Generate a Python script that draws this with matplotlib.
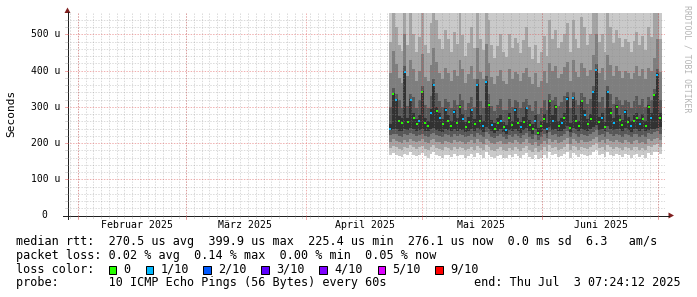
import numpy as np
import pandas as pd
import matplotlib
matplotlib.use('Agg')
import matplotlib.pyplot as plt
import matplotlib.dates as mdates
from matplotlib.patches import Polygon, Rectangle
from matplotlib.lines import Line2D

plt.rcParams['font.family'] = ['DejaVu Sans Mono']

W, H = 697, 297

# --- data (smokeping: 10 pings every 60s, one column = 18h consolidation) ---
col_start = '2025-04-22 10:00'
ncol = 94
t_first = '2025-01-29 03:43'
t_last = '2025-07-02 19:07'

# median rtt in us
median = [240, 335, 318, 262, 255, 397, 258, 319, 268, 252,
          262, 341, 256, 247, 282, 360, 288, 268, 252, 291,
          262, 248, 285, 256, 300, 265, 244, 258, 290, 252,
          360, 262, 247, 369, 306, 250, 240, 256, 262, 245,
          236, 268, 249, 292, 255, 244, 258, 296, 250, 238,
          262, 228, 246, 266, 240, 315, 262, 300, 248, 255,
          270, 322, 242, 324, 261, 248, 315, 276, 252, 266,
          341, 401, 258, 270, 245, 341, 282, 255, 300, 264,
          250, 287, 258, 246, 262, 270, 252, 265, 248, 300,
          268, 333, 388, 270]
# lost pings out of 10
loss = [1, 0, 1, 0, 0, 1, 0, 1, 0, 0,
        1, 0, 0, 0, 1, 1, 0, 1, 0, 1,
        0, 0, 1, 0, 0, 1, 0, 0, 1, 0,
        1, 0, 1, 1, 0, 1, 0, 0, 1, 0,
        1, 0, 0, 1, 0, 1, 0, 1, 0, 0,
        1, 0, 0, 0, 1, 0, 1, 0, 0, 1,
        0, 1, 0, 1, 0, 0, 0, 1, 0, 0,
        1, 1, 0, 1, 0, 1, 0, 1, 0, 0,
        0, 1, 0, 1, 0, 0, 1, 0, 0, 0,
        1, 0, 1, 0]

# sorted ping rtts (us): p1/p10, p2/p9, p3/p8, p4/p7, p5/p6
p1 = [166, 172, 168, 164, 162, 170, 166, 174, 168, 164,
      168, 172, 164, 160, 170, 174, 166, 164, 160, 168,
      166, 162, 170, 164, 168, 166, 160, 164, 170, 162,
      172, 166, 160, 174, 168, 162, 158, 164, 168, 160,
      158, 166, 162, 170, 164, 158, 166, 172, 162, 156,
      166, 156, 160, 168, 158, 174, 166, 170, 162, 164,
      170, 176, 160, 172, 168, 162, 170, 166, 164, 168,
      174, 180, 166, 170, 162, 174, 168, 164, 170, 166,
      162, 170, 166, 160, 168, 170, 162, 166, 160, 172,
      168, 174, 176, 170]
p10 = [720, 880, 760, 690, 650, 940, 700, 820, 740, 660,
       700, 860, 680, 640, 760, 900, 780, 700, 660, 740,
       720, 650, 760, 690, 800, 730, 640, 700, 770, 660,
       880, 710, 660, 900, 790, 680, 620, 690, 740, 650,
       630, 730, 670, 720, 700, 650, 710, 760, 680, 620,
       700, 600, 660, 740, 640, 800, 720, 760, 680, 700,
       740, 780, 650, 800, 720, 680, 790, 750, 690, 730,
       860, 960, 700, 740, 660, 880, 770, 700, 750, 720,
       680, 720, 700, 660, 710, 750, 690, 730, 670, 760,
       720, 820, 940, 710]
p2 = [186, 192, 188, 184, 182, 190, 186, 194, 188, 184,
      188, 192, 184, 182, 190, 194, 186, 184, 180, 188,
      186, 182, 190, 184, 188, 186, 180, 184, 190, 182,
      192, 186, 180, 194, 188, 182, 178, 184, 188, 180,
      178, 186, 182, 190, 184, 178, 186, 192, 182, 176,
      186, 176, 180, 188, 178, 194, 186, 190, 182, 184,
      190, 196, 180, 192, 188, 182, 190, 186, 184, 188,
      194, 200, 186, 190, 182, 194, 188, 184, 190, 186,
      182, 190, 186, 180, 188, 190, 182, 186, 180, 192,
      188, 194, 196, 190]
p9 = [480, 600, 520, 470, 455, 640, 470, 560, 500, 452,
      492, 580, 470, 448, 530, 610, 540, 486, 460, 512,
      488, 450, 506, 472, 560, 498, 440, 476, 520, 462,
      600, 486, 458, 620, 540, 470, 436, 468, 500, 450,
      438, 500, 462, 490, 476, 448, 484, 520, 466, 432,
      470, 420, 452, 496, 440, 540, 488, 512, 462, 478,
      500, 530, 450, 540, 486, 462, 548, 520, 470, 500,
      580, 660, 480, 500, 452, 600, 520, 476, 512, 490,
      466, 488, 478, 452, 482, 506, 470, 494, 456, 520,
      492, 560, 640, 488]
p3 = [204, 210, 206, 202, 200, 208, 204, 212, 206, 202,
      206, 210, 202, 200, 208, 212, 204, 202, 198, 206,
      204, 200, 208, 202, 206, 204, 198, 202, 208, 200,
      210, 204, 198, 212, 206, 200, 196, 202, 206, 198,
      196, 204, 200, 208, 202, 196, 204, 210, 200, 194,
      204, 192, 198, 206, 196, 212, 204, 208, 200, 202,
      208, 214, 198, 210, 206, 200, 208, 204, 202, 206,
      212, 218, 204, 208, 200, 212, 206, 202, 208, 204,
      200, 208, 204, 198, 206, 208, 200, 204, 198, 210,
      206, 212, 214, 208]
p8 = [392, 455, 418, 380, 366, 500, 384, 430, 404, 372,
      398, 446, 382, 370, 414, 462, 424, 394, 376, 408,
      394, 372, 402, 384, 428, 404, 366, 390, 412, 378,
      462, 396, 376, 474, 422, 382, 362, 384, 402, 370,
      364, 404, 378, 396, 390, 372, 394, 408, 382, 362,
      392, 354, 372, 400, 366, 420, 398, 412, 380, 390,
      410, 424, 372, 428, 396, 382, 422, 406, 384, 402,
      442, 502, 392, 408, 374, 442, 416, 384, 412, 398,
      380, 398, 392, 376, 394, 412, 384, 404, 378, 408,
      400, 434, 488, 396]
p4 = [222, 226, 224, 220, 218, 226, 222, 228, 224, 220,
      222, 226, 220, 218, 224, 228, 222, 220, 216, 224,
      222, 218, 226, 220, 224, 222, 216, 220, 226, 218,
      228, 222, 216, 230, 224, 218, 214, 220, 224, 216,
      212, 222, 218, 226, 220, 214, 222, 228, 218, 212,
      222, 208, 216, 224, 214, 230, 222, 226, 218, 220,
      226, 232, 216, 228, 224, 218, 226, 222, 220, 224,
      230, 236, 222, 226, 218, 230, 224, 220, 226, 222,
      218, 226, 222, 216, 224, 226, 218, 222, 216, 228,
      224, 230, 232, 226]
p7 = [300, 352, 336, 318, 296, 412, 302, 334, 326, 298,
      318, 358, 304, 296, 330, 376, 338, 316, 300, 322,
      314, 296, 318, 306, 336, 320, 292, 310, 326, 300,
      378, 316, 298, 384, 336, 302, 288, 306, 322, 292,
      290, 322, 300, 318, 312, 296, 314, 322, 304, 288,
      316, 280, 296, 320, 290, 334, 318, 328, 302, 312,
      330, 340, 296, 342, 318, 304, 338, 326, 308, 322,
      358, 418, 314, 326, 296, 356, 334, 308, 328, 318,
      304, 318, 312, 298, 316, 330, 306, 322, 300, 326,
      320, 350, 404, 318]
p5 = [236, 240, 238, 234, 232, 240, 236, 242, 238, 234,
      236, 240, 234, 232, 238, 242, 236, 234, 230, 238,
      236, 232, 240, 234, 238, 236, 230, 234, 240, 232,
      242, 236, 230, 244, 238, 232, 228, 234, 238, 230,
      226, 236, 232, 240, 234, 228, 236, 242, 232, 226,
      238, 222, 230, 240, 228, 244, 236, 240, 232, 234,
      240, 246, 230, 242, 238, 232, 240, 236, 234, 238,
      244, 250, 236, 240, 232, 246, 238, 236, 240, 238,
      232, 242, 236, 230, 238, 240, 234, 238, 232, 236,
      240, 238, 242, 244]
p6 = [252, 338, 322, 275, 268, 400, 270, 322, 282, 266,
      276, 344, 270, 262, 295, 363, 300, 282, 266, 296,
      276, 262, 290, 270, 304, 280, 258, 272, 294, 266,
      363, 276, 262, 372, 310, 264, 254, 270, 276, 258,
      250, 282, 262, 296, 270, 258, 272, 300, 264, 252,
      276, 242, 260, 280, 254, 318, 276, 304, 262, 268,
      284, 326, 256, 328, 276, 262, 318, 290, 266, 280,
      344, 404, 272, 284, 258, 344, 296, 268, 304, 278,
      264, 292, 272, 260, 276, 284, 266, 280, 262, 304,
      282, 336, 392, 284]

for arr in (median, loss, p1, p10, p2, p9, p3, p8, p4, p7, p5, p6):
    assert len(arr) == ncol

loss_labels = ['0', '1/10', '2/10', '3/10', '4/10', '5/10', '9/10']
loss_colors = ['#26ff00', '#00b8ff', '#0059ff', '#5e00ff', '#7e00ff', '#dd00ff', '#ff0000']

month_starts = ['2025-02-01', '2025-03-01', '2025-04-01', '2025-05-01', '2025-06-01', '2025-07-01']
month_label_at = ['2025-02-16 06:00', '2025-03-16 06:00', '2025-04-16 06:00',
                  '2025-05-16 06:00', '2025-06-16 06:00']
month_labels = ['Februar 2025', 'März 2025', 'April 2025', 'Mai 2025', 'Juni 2025']

ytick_vals = [0, 100, 200, 300, 400, 500]
ytick_labels = ['0', '100 u', '200 u', '300 u', '400 u', '500 u']

# --- figure ---
fig = plt.figure(figsize=(W / 100, H / 100), dpi=100)
fig.patch.set_facecolor('white')

def fx(x):
    return x / W

def fy(y):
    return 1 - y / H

X0, XW = 67, 598
ax = fig.add_axes([fx(X0), (H - 215.5) / H, XW / W, 202.2 / H])
tstart = mdates.date2num(pd.Timestamp(t_first))
tend = mdates.date2num(pd.Timestamp(t_last))
span = tend - tstart
ax.set_xlim(tstart, tend)
ax.set_ylim(0, 558)
ax.set_axis_off()

t = mdates.date2num(pd.date_range(col_start, periods=ncol, freq='18h'))
wd = 0.75
med = np.array(median, dtype=float)

smoke = [(p1, p10, '#cacaca'), (p2, p9, '#a4a4a4'), (p3, p8, '#7e7e7e'),
         (p4, p7, '#585858'), (p5, p6, '#323232')]
for lo, hi, c in smoke:
    lo = np.array(lo, dtype=float)
    hi = np.array(hi, dtype=float)
    ax.bar(t, hi - lo, bottom=lo, width=wd, align='edge', color=c,
           linewidth=0, antialiased=False, zorder=2)

ls = np.array(loss)
for k in range(2):
    m = ls == k
    ax.plot(t[m] + wd / 2, med[m], 's', ms=1.9, mew=0, color=loss_colors[k], zorder=4)

# grid (rrdtool draws it over the graph)
gcol = (0.56, 0.56, 0.56, 0.33)
mcol = (0.87, 0.31, 0.31, 0.45)
dash = (0, (1.4, 1.4))
even_days = np.arange(np.ceil(tstart / 2) * 2, tend, 2)
month_x = mdates.date2num(pd.to_datetime(month_starts))
ax.vlines(even_days, 0, 558, colors=[gcol], linewidth=0.72, linestyles=[dash], zorder=5)
ax.vlines(month_x, 0, 558, colors=[mcol], linewidth=0.72, linestyles=[dash], zorder=5)
minor_y = [v for v in range(20, 558, 20) if v % 100]
ax.hlines(minor_y, tstart, tend, colors=[gcol], linewidth=0.72, linestyles=[dash], zorder=5)
ax.hlines(ytick_vals[1:], tstart, tend, colors=[mcol], linewidth=0.72, linestyles=[dash], zorder=5)

# axes lines and arrows
acol = (0.12, 0.12, 0.12)
fig.add_artist(Line2D([fx(63), fx(669)], [fy(215.5), fy(215.5)], color=acol, lw=0.72))
fig.add_artist(Line2D([fx(67.5), fx(67.5)], [fy(219), fy(12)], color=acol, lw=0.72))
arrow = (0.5, 0.12, 0.12)
fig.add_artist(Polygon([[fx(64.5), fy(13)], [fx(70.5), fy(13)], [fx(67.5), fy(7.5)]],
                       closed=True, color=arrow, lw=0))
fig.add_artist(Polygon([[fx(668.5), fy(212.5)], [fx(668.5), fy(218.5)], [fx(674), fy(215.5)]],
                       closed=True, color=arrow, lw=0))

# small ticks on the axes
for d in even_days:
    xp = X0 + (d - tstart) / span * XW
    fig.add_artist(Line2D([fx(xp), fx(xp)], [fy(215.5), fy(217.5)], color=gcol, lw=0.72))
for d in month_x:
    xp = X0 + (d - tstart) / span * XW
    fig.add_artist(Line2D([fx(xp), fx(xp)], [fy(215.5), fy(218.5)], color=mcol, lw=0.72))
for v in minor_y + ytick_vals[1:]:
    yp = 215.5 - v * 202.2 / 558
    c = mcol if v % 100 == 0 else gcol
    fig.add_artist(Line2D([fx(64.5), fx(67.5)], [fy(yp), fy(yp)], color=c, lw=0.72))

# tick labels
for v, lab in zip(ytick_vals, ytick_labels):
    xr = 60 if v else 47.5
    ax.text((xr - X0) / XW, v, lab, transform=ax.get_yaxis_transform(),
            ha='right', va='center', fontsize=7, color='black')
for d, lab in zip(mdates.date2num(pd.to_datetime(month_label_at)), month_labels):
    ax.text(d, (215.5 - 224.8) / 202.2, lab, transform=ax.get_xaxis_transform(),
            ha='center', va='center', fontsize=7.1, color='black')

fig.text(fx(11), fy(113.5), 'Seconds', rotation=90, ha='center', va='center', fontsize=8)
fig.text(fx(687), fy(59), 'RRDTOOL / TOBI OETIKER', rotation=270, ha='center',
         va='center', fontsize=5.9, color='#b4b4b4')

# legend / comments
fs = 8.5
fig.text(fx(16), fy(245.3), 'median rtt:  270.5 us avg  399.9 us max  225.4 us min  '
         '276.1 us now  0.0 ms sd  6.3   am/s', fontsize=fs, va='baseline')
fig.text(fx(16), fy(259), 'packet loss: 0.02 % avg  0.14 % max  0.00 % min  0.05 % now',
         fontsize=fs, va='baseline')
fig.text(fx(16), fy(272.7), 'loss color:', fontsize=fs, va='baseline')
box_x = [108.7, 145.7, 203, 261, 319.3, 377.7, 435.3]
for bx, lab, c in zip(box_x, loss_labels, loss_colors):
    fig.add_artist(Rectangle((fx(bx), fy(273.5)), 7.5 / W, 7.5 / H, transform=fig.transFigure,
                             facecolor=c, edgecolor='black', lw=0.72))
    fig.text(fx(bx + 14.7), fy(272.7), lab, fontsize=fs, va='baseline')
fig.text(fx(16), fy(286.4), 'probe:       10 ICMP Echo Pings (56 Bytes) every 60s',
         fontsize=fs, va='baseline')
fig.text(fx(681), fy(286.4), 'end: Thu Jul  3 07:24:12 2025', fontsize=fs,
         va='baseline', ha='right')

fig.savefig('out.png', dpi=100)
